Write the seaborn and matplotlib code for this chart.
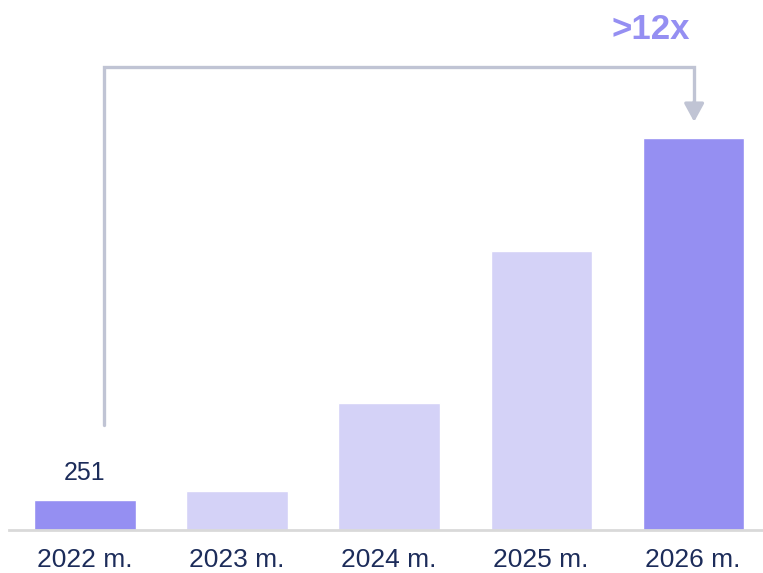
import numpy as np
import pandas as pd
import matplotlib
matplotlib.use("Agg")
import matplotlib.pyplot as plt
import seaborn as sns

# chart data
years = ["2022 m.", "2023 m.", "2024 m.", "2025 m.", "2026 m."]
values = [251, 330, 1070, 2360, 3310]
bar_colors = ["#958ff2", "#d4d2f7", "#d4d2f7", "#d4d2f7", "#958ff2"]
growth_label = ">12x"

df = pd.DataFrame({"year": years, "value": values})

sns.set_style("white")
plt.rcParams["font.family"] = ["Liberation Sans", "DejaVu Sans"]

text_color = "#1c2c5a"
bracket_color = "#c0c4d4"

fig = plt.figure(figsize=(7.63, 5.73), dpi=100)
ax = fig.add_axes([9 / 763, 43 / 573, 1 - 9 / 763, 530 / 573])

sns.barplot(data=df, x="year", y="value", hue="year", palette=bar_colors,
            legend=False, width=0.665, saturation=1, ax=ax)

ax.set_xlim(-0.5, 4.46)
ax.set_ylim(0, 4480)

# spines and ticks
for s in ["top", "right", "left"]:
    ax.spines[s].set_visible(False)
ax.spines["bottom"].set_color("#d9d9d9")
ax.spines["bottom"].set_linewidth(2)
ax.set_yticks([])
ax.set_xlabel("")
ax.set_ylabel("")
ax.tick_params(axis="x", length=0, pad=13, labelsize=19, labelcolor=text_color)

# value label on first bar
ax.text(0, values[0] + 130, str(values[0]), ha="center", va="bottom",
        fontsize=18, color=text_color)

# bracket from first bar to last bar
x0 = 0.125
x1 = len(values) - 1 + 0.007
y_low = values[0] + 636
y_top = 3912
ax.plot([x0, x0, x1, x1], [y_low, y_top, y_top, 3600],
        color=bracket_color, lw=2.4, solid_joinstyle="miter", zorder=1)
ax.annotate("", xy=(x1, values[-1] + 140), xytext=(x1, 3620),
            arrowprops=dict(arrowstyle="-|>,head_length=1.1,head_width=0.6",
                            color=bracket_color, lw=2.4, shrinkA=0, shrinkB=0))

ax.text(3.72, 4230, growth_label, ha="center", va="center",
        fontsize=25, fontweight="bold", color="#958ff2")

fig.savefig("out.png", dpi=100)
